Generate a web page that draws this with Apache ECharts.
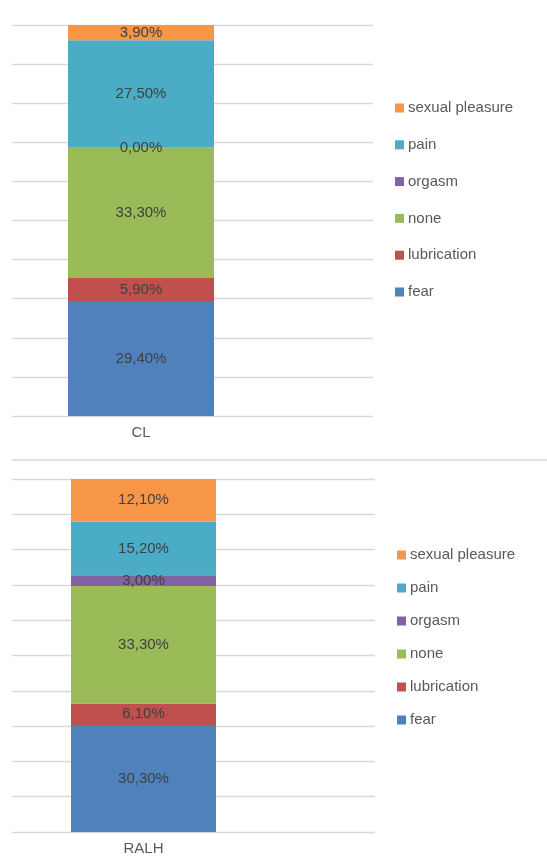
<!DOCTYPE html>
<html>
<head>
<meta charset="utf-8">
<script src="https://cdn.jsdelivr.net/npm/echarts@6/dist/echarts.min.js"></script>
<style>html,body{margin:0;padding:0;background:#fff}#c{width:547px;height:864px}</style>
</head>
<body>
<div id="c"></div>
<script>
const seriesNames = ['fear', 'lubrication', 'none', 'orgasm', 'pain', 'sexual pleasure'];
const seriesColors = ['#4f81bd', '#c0504d', '#9bbb59', '#8064a2', '#4bacc6', '#f79646'];
const topCategories = ['CL'];
const bottomCategories = ['RALH'];
const clValues = [29.4, 5.9, 33.3, 0.0, 27.5, 3.9];
const ralhValues = [30.3, 6.1, 33.3, 3.0, 15.2, 12.1];
const yMin = 0, yMax = 100, yInterval = 10;

const chart = echarts.init(document.getElementById('c'));
const fontFam = "'Liberation Sans', Arial, sans-serif";
const gridColor = '#d9d9d9';

function bgY(gi) {
  return { gridIndex: gi, type: 'value', min: yMin, max: yMax, interval: yInterval,
    axisLabel: { show: false }, axisLine: { show: false }, axisTick: { show: false },
    splitLine: { show: true, lineStyle: { color: gridColor, width: 1.3 } } };
}
function barY(gi) {
  return { gridIndex: gi, type: 'value', min: yMin, max: yMax, interval: yInterval,
    axisLabel: { show: false }, axisLine: { show: false }, axisTick: { show: false },
    splitLine: { show: false } };
}
function bgX(gi) {
  return { gridIndex: gi, type: 'category', data: [''], show: false };
}
function barX(gi, cats) {
  return { gridIndex: gi, type: 'category', data: cats,
    axisLine: { show: false }, axisTick: { show: false },
    axisLabel: { color: '#595959', fontSize: 15, fontFamily: fontFam, margin: 9 } };
}
function fmt(p) { return p.value.toFixed(2).replace('.', ',') + '%'; }

const series = [];
seriesNames.forEach((n, i) => {
  series.push({ name: n, type: 'bar', stack: 'top', xAxisIndex: 1, yAxisIndex: 1,
    data: [clValues[i]], barWidth: 146, itemStyle: { color: seriesColors[i] },
    label: { show: true, position: 'inside', formatter: fmt, color: '#404040', fontSize: 15, fontFamily: fontFam } });
});
seriesNames.forEach((n, i) => {
  series.push({ name: n, type: 'bar', stack: 'bottom', xAxisIndex: 3, yAxisIndex: 3,
    data: [ralhValues[i]], barWidth: 145, itemStyle: { color: seriesColors[i] },
    label: { show: true, position: 'inside', formatter: fmt, color: '#404040', fontSize: 15, fontFamily: fontFam } });
});

const legendData = seriesNames.slice().reverse();
function legend(left, top, gap) {
  return { data: legendData, orient: 'vertical', left: left, top: top,
    itemWidth: 9, itemHeight: 9, itemGap: gap, icon: 'rect',
    textStyle: { color: '#595959', fontSize: 15, fontFamily: fontFam, lineHeight: 18, padding: [0, 0, 0, -1] } };
}

chart.setOption({
  animation: false,
  backgroundColor: '#fff',
  grid: [
    { left: 12, top: 25, width: 361, height: 391 },
    { left: 12, top: 25, width: 258, height: 391 },
    { left: 12, top: 479, width: 363, height: 353 },
    { left: 12, top: 479, width: 263, height: 353 }
  ],
  xAxis: [bgX(0), barX(1, topCategories), bgX(2), barX(3, bottomCategories)],
  yAxis: [bgY(0), barY(1), bgY(2), barY(3)],
  legend: [legend(390, 94, 18.8), legend(392, 541, 15)],
  graphic: [{ type: 'line', shape: { x1: 12, y1: 460, x2: 547, y2: 460 },
    style: { stroke: '#d9d9d9', lineWidth: 1.5 } }],
  series: series
});
</script>
</body>
</html>
